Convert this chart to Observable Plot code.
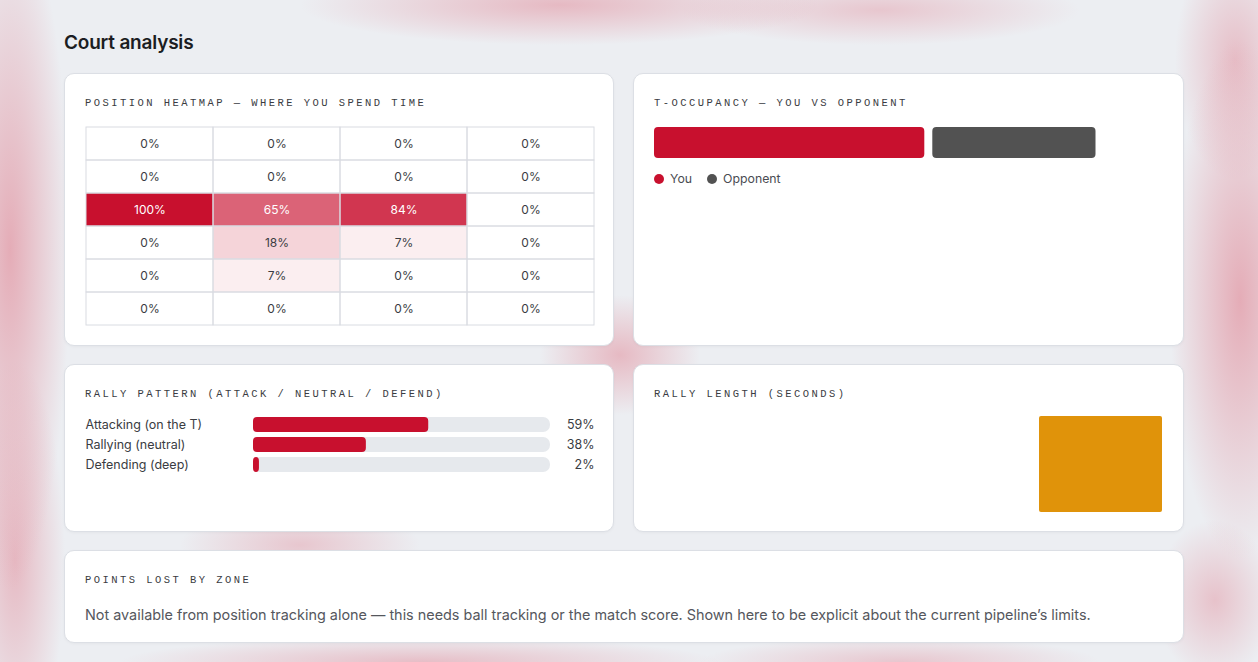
<!DOCTYPE html>
<html><head><meta charset="utf-8">
<script src="https://cdn.jsdelivr.net/npm/d3@7"></script>
<script src="https://cdn.jsdelivr.net/npm/@observablehq/plot@0.6"></script>
<style>
html,body{margin:0;padding:0;}
body{width:1258px;height:662px;overflow:hidden;position:relative;font-family:Inter,"Noto Sans",sans-serif;
background:
 radial-gradient(ellipse 60px 340px at 10px 250px, rgba(226,150,163,0.75), rgba(226,150,163,0) 100%),
 radial-gradient(ellipse 50px 200px at 15px 560px, rgba(226,150,163,0.6), rgba(226,150,163,0) 100%),
 radial-gradient(ellipse 260px 40px at 560px 5px, rgba(226,150,163,0.6), rgba(226,150,163,0) 100%),
 radial-gradient(ellipse 200px 35px at 880px 10px, rgba(226,150,163,0.45), rgba(226,150,163,0) 100%),
 radial-gradient(ellipse 70px 260px at 1240px 300px, rgba(226,150,163,0.75), rgba(226,150,163,0) 100%),
 radial-gradient(ellipse 60px 120px at 1235px 60px, rgba(226,150,163,0.55), rgba(226,150,163,0) 100%),
 radial-gradient(ellipse 80px 60px at 620px 355px, rgba(226,150,163,0.6), rgba(226,150,163,0) 100%),
 radial-gradient(ellipse 300px 25px at 420px 662px, rgba(226,150,163,0.55), rgba(226,150,163,0) 100%),
 radial-gradient(ellipse 200px 25px at 900px 662px, rgba(226,150,163,0.45), rgba(226,150,163,0) 100%),
 radial-gradient(ellipse 120px 40px at 300px 545px, rgba(226,150,163,0.45), rgba(226,150,163,0) 100%),
 radial-gradient(ellipse 60px 80px at 1215px 600px, rgba(226,150,163,0.5), rgba(226,150,163,0) 100%),
 #eceef2;}
#title{position:absolute;left:64px;top:31px;font-size:19px;font-weight:600;color:#1b1d22;line-height:24px;letter-spacing:-0.2px;}
.card{position:absolute;background:#fff;border:1px solid #dcdfe5;border-radius:10px;padding:20px;box-sizing:border-box;box-shadow:0 1px 3px rgba(0,0,0,0.04);}
.hd{font-family:"Liberation Mono","DejaVu Sans Mono",monospace;font-size:10.5px;letter-spacing:2.45px;color:#3a3c42;line-height:14px;margin:2px 0 13px;white-space:nowrap;}
.legend{display:flex;align-items:center;margin-top:13px;font-size:12.3px;color:#4a4c52;line-height:16px;}
.legend .it{display:flex;align-items:center;margin-right:15px;}
.legend .dot{width:10px;height:10px;border-radius:50%;margin-right:6px;}
.note{margin-top:18px;font-size:14.4px;color:#55575d;line-height:20px;white-space:nowrap;}
svg{display:block;overflow:visible;max-width:none !important;}
</style>
</head><body>
<div id="title">Court analysis</div>
<div class="card" style="left:64px;top:73px;width:550px;height:273px;">
  <div class="hd">POSITION HEATMAP — WHERE YOU SPEND TIME</div>
  <div id="heat"></div>
</div>
<div class="card" style="left:633px;top:73px;width:551px;height:273px;">
  <div class="hd">T-OCCUPANCY — YOU VS OPPONENT</div>
  <div id="tocc"></div>
  <div class="legend" id="toccLegend"></div>
</div>
<div class="card" style="left:64px;top:364px;width:550px;height:168px;">
  <div class="hd">RALLY PATTERN (ATTACK / NEUTRAL / DEFEND)</div>
  <div id="pattern"></div>
</div>
<div class="card" style="left:633px;top:364px;width:551px;height:168px;">
  <div class="hd">RALLY LENGTH (SECONDS)</div>
  <div id="rlen"></div>
</div>
<div class="card" style="left:64px;top:550px;width:1120px;height:93px;">
  <div class="hd">POINTS LOST BY ZONE</div>
  <div class="note">Not available from position tracking alone — this needs ball tracking or the match score. Shown here to be explicit about the current pipeline’s limits.</div>
</div>
<script>
// ---- Data ----
const heatCols = ["Left wall", "Left-centre", "Right-centre", "Right wall"];
const heatRowNames = ["Front 1", "Front 2", "Mid 1", "Mid 2", "Back 1", "Back 2"];
const heatRow1 = [0, 0, 0, 0];
const heatRow2 = [0, 0, 0, 0];
const heatRow3 = [100, 65, 84, 0];
const heatRow4 = [0, 18, 7, 0];
const heatRow5 = [0, 7, 0, 0];
const heatRow6 = [0, 0, 0, 0];

const toccWho = ["You", "Opponent"];
const toccPct = [53, 32];

const patternLabels = ["Attacking (on the T)", "Rallying (neutral)", "Defending (deep)"];
const patternPct = [59, 38, 2];

const rallyBins = ["0–10", "10–20", "20–30", "30+"];
const rallyCounts = [0, 0, 0, 1];

// ---- Colours / style ----
const CRIMSON = "#C8102E";
const GREY = "#525252";
const ORANGE = "#E0930A";
const font = {fontFamily: "Inter, 'Noto Sans', sans-serif", fontSize: "12px", background: "transparent", overflow: "visible"};

// ---- Heatmap ----
const heatRows = [heatRow1, heatRow2, heatRow3, heatRow4, heatRow5, heatRow6];
const heatData = heatRows.flatMap((r, i) => r.map((v, j) => ({row: heatRowNames[i], col: heatCols[j], v})));
const heat = Plot.plot({
  width: 510, height: 203,
  marginTop: 4, marginBottom: 1, marginLeft: 1, marginRight: 1,
  style: font,
  x: {domain: heatCols, padding: 0, axis: null},
  y: {domain: heatRowNames, padding: 0, axis: null},
  color: {type: "identity"},
  marks: [
    Plot.cell(heatData, {x: "col", y: "row", fill: CRIMSON, fillOpacity: d => d.v / 100}),
    Plot.cell(heatData, {x: "col", y: "row", fill: "none", stroke: "#d9dce2", strokeWidth: 1}),
    Plot.text(heatData, {x: "col", y: "row", text: d => d.v + "%", fill: d => d.v >= 50 ? "#ffffff" : "#3a3c42", fontSize: 12})
  ]
});
document.getElementById("heat").appendChild(heat);

// ---- T-occupancy ----
const toccColors = [CRIMSON, GREY];
let acc = 0;
const toccData = toccWho.map((w, i) => { const d = {who: w, x1: acc, x2: acc + toccPct[i], color: toccColors[i]}; acc += toccPct[i]; return d; });
const tocc = Plot.plot({
  width: 510, height: 35,
  marginTop: 4, marginBottom: 0, marginLeft: 0, marginRight: 0,
  style: font,
  x: {domain: [0, 100], axis: null},
  color: {type: "identity"},
  marks: [
    Plot.rectX(toccData.slice(0, 1), {x1: "x1", x2: "x2", fill: "color", rx: 4}),
    Plot.rectX(toccData.slice(1), {x1: "x1", x2: "x2", fill: "color", rx: 4, dx: 8})
  ]
});
document.getElementById("tocc").appendChild(tocc);
const lg = document.getElementById("toccLegend");
toccWho.forEach((w, i) => {
  const it = document.createElement("div"); it.className = "it";
  const dot = document.createElement("span"); dot.className = "dot"; dot.style.background = toccColors[i];
  const t = document.createElement("span"); t.textContent = w;
  it.appendChild(dot); it.appendChild(t); lg.appendChild(it);
});

// ---- Rally pattern ----
const patternData = patternLabels.map((l, i) => ({label: l, v: patternPct[i]}));
const pattern = Plot.plot({
  width: 510, height: 60,
  marginTop: 0, marginBottom: 0, marginLeft: 168, marginRight: 45,
  style: {...font, fontSize: "12.5px"},
  x: {domain: [0, 100], axis: null},
  y: {domain: patternLabels, paddingInner: 0.25, paddingOuter: 0.125, axis: null},
  marks: [
    Plot.barX(patternData, {x: 100, y: "label", fill: "#e6e9ed", rx: 7}),
    Plot.barX(patternData, {x: "v", y: "label", fill: CRIMSON, rx: 4}),
    Plot.text(patternData, {x: 0, y: "label", text: "label", textAnchor: "start", dx: -168, fill: "#3a3c42", fontSize: 12.5}),
    Plot.text(patternData, {x: 100, y: "label", text: d => d.v + "%", textAnchor: "end", dx: 44, fill: "#3a3c42", fontSize: 12.5})
  ]
});
document.getElementById("pattern").appendChild(pattern);

// ---- Rally length ----
const rallyData = rallyBins.map((b, i) => ({bin: b, n: rallyCounts[i]}));
const rlen = Plot.plot({
  width: 510, height: 100,
  marginTop: 2, marginBottom: 2, marginLeft: 0, marginRight: 0,
  style: font,
  x: {domain: rallyBins, paddingInner: 0.036, paddingOuter: 0, axis: null},
  y: {domain: [0, d3.max(rallyCounts)], axis: null},
  marks: [
    Plot.barY(rallyData.filter(d => d.n > 0), {x: "bin", y: "n", fill: ORANGE, rx: 2})
  ]
});
document.getElementById("rlen").appendChild(rlen);
</script>
</body></html>
